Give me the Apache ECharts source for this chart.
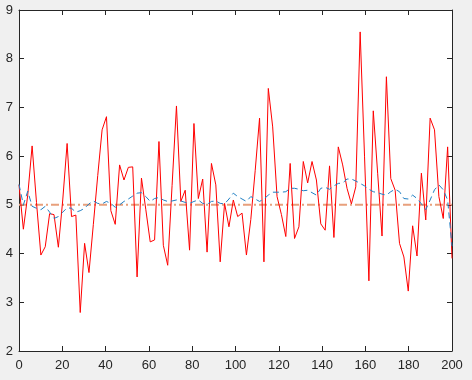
<!DOCTYPE html>
<html><head><meta charset="utf-8">
<script src="https://cdn.jsdelivr.net/npm/echarts@6/dist/echarts.min.js"></script>
<style>html,body{margin:0;padding:0;background:#f0f0f0;}#c{width:472px;height:380px;}</style>
</head><body><div id="c"></div>
<script>
// x domain: 100 samples spread evenly over 0..200
const xMin = 0, xMax = 200, nPts = 100;
const xTicks = [0, 20, 40, 60, 80, 100, 120, 140, 160, 180, 200];
const yTicks = [2, 3, 4, 5, 6, 7, 8, 9];
const signal = [5.41,4.50,5.2,6.21,5.05,3.97,4.14,4.82,4.80,4.13,
  5.1,6.26,4.76,4.79,2.79,4.21,3.61,4.6,5.6,6.54,
  6.81,4.88,4.6,5.82,5.51,5.77,5.78,3.52,5.55,4.9,
  4.24,4.28,6.3,4.17,3.76,5.4,7.03,5.07,5.3,4.07,
  6.67,5.13,5.53,4.03,5.85,5.41,3.83,5.03,4.55,5.1,
  4.76,4.83,3.97,4.7,5.7,6.78,3.83,7.39,6.6,5.17,
  4.8,4.35,5.85,4.31,4.55,5.89,5.45,5.89,5.51,4.61,
  4.48,5.80,4.33,6.19,5.82,5.34,5.02,5.37,8.55,6.0,
  3.44,6.93,5.65,4.36,7.63,5.54,5.30,4.21,3.93,3.23,
  4.57,3.95,5.65,4.69,6.78,6.54,5.17,4.72,6.19,3.90];
const smooth = [5.42,5.0,5.28,4.97,4.93,4.9,4.97,4.85,4.72,4.76,
  4.85,4.94,4.93,4.85,4.88,4.93,5.02,5.08,5.03,5.02,
  5.07,5.03,4.95,5.0,5.07,5.12,5.18,5.24,5.25,5.17,
  5.07,5.13,5.15,5.1,5.07,5.08,5.1,5.08,5.05,5.03,
  5.07,5.1,5.03,5.01,5.07,5.08,5.03,5.02,5.12,5.24,
  5.17,5.12,5.07,5.17,5.12,5.07,5.12,5.2,5.26,5.26,
  5.26,5.27,5.34,5.34,5.32,5.29,5.3,5.25,5.2,5.34,
  5.36,5.32,5.39,5.44,5.45,5.53,5.53,5.49,5.44,5.39,
  5.32,5.27,5.25,5.22,5.2,5.27,5.32,5.27,5.13,5.12,
  5.2,5.13,5.02,4.9,5.1,5.31,5.41,5.31,5.1,4.15];
const refLevel = 5;

const xs = signal.map((_, k) => xMin + k * (xMax - xMin) / (nPts - 1));
const pairs = arr => arr.map((v, k) => [xs[k], v]);

const axisColor = '#262626';
const lbl = {color: axisColor, fontSize: 13, fontFamily: 'Liberation Sans, Arial, sans-serif'};
const mkX = (pos, showLabel) => ({
  type: 'value', position: pos, min: xTicks[0], max: xTicks[xTicks.length-1], interval: xTicks[1]-xTicks[0],
  axisLine: {show: true, onZero: false, lineStyle: {color: axisColor, width: 1}},
  axisTick: {show: true, inside: true, length: 5, lineStyle: {color: axisColor}},
  axisLabel: Object.assign({show: showLabel, margin: 8}, lbl),
  splitLine: {show: false}
});
const mkY = (pos, showLabel) => ({
  type: 'value', position: pos, min: yTicks[0], max: yTicks[yTicks.length-1], interval: yTicks[1]-yTicks[0],
  axisLine: {show: true, onZero: false, lineStyle: {color: axisColor, width: 1}},
  axisTick: {show: true, inside: true, length: 5, lineStyle: {color: axisColor}},
  axisLabel: Object.assign({show: showLabel, margin: 6}, lbl),
  splitLine: {show: false}
});

const chart = echarts.init(document.getElementById('c'), null, {renderer: 'canvas'});
chart.setOption({
  animation: false,
  backgroundColor: '#f0f0f0',
  grid: {left: 19, right: 20, top: 10, bottom: 29, show: true, backgroundColor: '#ffffff', borderWidth: 0},
  xAxis: [mkX('bottom', true), mkX('top', false)],
  yAxis: [mkY('left', true), mkY('right', false)],
  series: [
    {type: 'line', data: pairs(signal), showSymbol: false, symbol: 'none',
     lineStyle: {color: '#ff0000', width: 1}, z: 3},
    {type: 'line', data: [[xMin, refLevel], [xMax, refLevel]], symbol: 'none',
     lineStyle: {color: '#e8a07c', width: 2, type: [8, 3, 2, 3]}, z: 2},
    {type: 'line', data: pairs(smooth), symbol: 'none',
     lineStyle: {color: '#1f7fc4', width: 1, type: [6, 4]}, z: 4}
  ]
});
</script></body></html>
